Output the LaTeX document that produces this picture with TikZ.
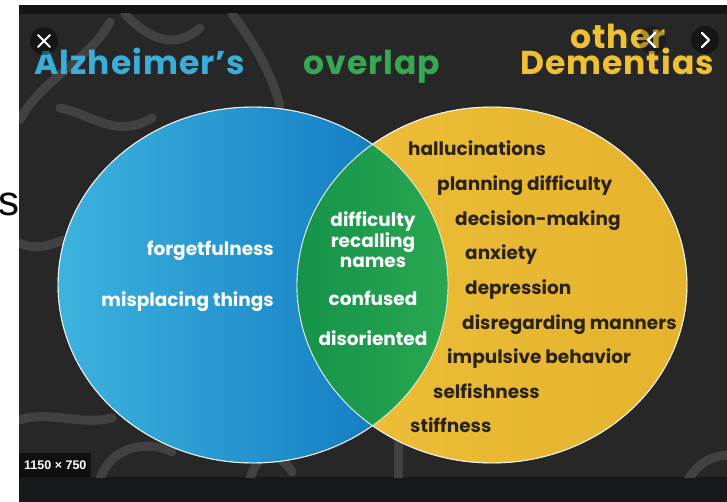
\documentclass[tikz,border=0pt]{standalone}
\usepackage{fontspec}
\setmainfont{Poppins}
\setsansfont{Liberation Sans}
\usepackage{xcolor}
\usetikzlibrary{positioning,shapes}

\definecolor{panel}{HTML}{272727}
\definecolor{panelTop}{HTML}{141417}
\definecolor{panelBottom}{HTML}{17181C}
\definecolor{swirl}{HTML}{414141}
\definecolor{alzLeft}{HTML}{3DB3DE}
\definecolor{alzRight}{HTML}{0B72BE}
\definecolor{ovlLeft}{HTML}{15934A}
\definecolor{ovlRight}{HTML}{29A751}
\definecolor{othLeft}{HTML}{EFBF3B}
\definecolor{othRight}{HTML}{E5B32C}
\definecolor{alzTitle}{HTML}{39AEDA}
\definecolor{ovlTitle}{HTML}{35A852}
\definecolor{othTitle}{HTML}{F0C032}
\definecolor{ink}{HTML}{2A2416}

\begin{document}
\begin{tikzpicture}[
            x=1pt, y=-1pt,
            setnode/.style={ellipse, minimum width=390pt, minimum height=356pt, inner sep=0pt},
            rim/.style={draw=white, draw opacity=0.75, line width=0.9pt},
            titletext/.style={font=\bfseries\fontsize{33}{36}\selectfont\addfontfeatures{LetterSpace=3}, anchor=base, inner sep=0pt},
            itemtext/.style={font=\bfseries\fontsize{18.5}{22}\selectfont, inner sep=0pt},
            swirlline/.style={draw=swirl, line width=9pt, line cap=round},
            iconbg/.style={circle, fill=black, fill opacity=0.45, minimum size=28pt, inner sep=0pt}
        ]
            \useasboundingbox (0,0) rectangle (727,502);
            \fill[white] (0,0) rectangle (727,502);
            % Panel
            \fill[panel] (19,5) rectangle (727,477);
            \fill[panelTop] (19,5) rectangle (727,14);
            \fill[panelBottom] (19,477) rectangle (727,502);
            \begin{scope}
                \clip (19,14) rectangle (727,477);
                \draw[swirlline] (20,120) .. controls (40,80) and (90,60) .. (110,22);
                \draw[swirlline] (125,14) .. controls (150,40) and (175,50) .. (200,28);
                \draw[swirlline] (60,108) .. controls (90,113) and (115,140) .. (152,118);
                \draw[swirlline] (232,14) .. controls (252,40) and (270,70) .. (280,105);
                \draw[swirlline] (19,243) .. controls (35,250) and (50,246) .. (62,240);
                \draw[swirlline] (19,420) .. controls (50,410) and (80,426) .. (112,418);
                \draw[swirlline] (100,480) .. controls (110,445) and (150,440) .. (172,452);
                \draw[swirlline] (250,480) .. controls (255,455) and (275,445) .. (292,472);
                \draw[swirlline] (398,438) -- (398,480);
                \draw[swirlline] (688,480) .. controls (700,460) and (715,455) .. (732,455);
            \end{scope}

            % Sets
            \node[setnode, left color=alzLeft, right color=alzRight, rim] (blueset) at (253,285) {};
            \node[setnode, left color=othLeft, right color=othRight, rim] (yellowset) at (492,285) {};
            \begin{scope}
                \clip (blueset.center) ellipse [x radius=195pt, y radius=178pt];
                \clip (yellowset.center) ellipse [x radius=195pt, y radius=178pt];
                \shade[left color=ovlLeft, right color=ovlRight] (296,100) rectangle (449,470);
            \end{scope}
            \draw[rim] (blueset.center) ellipse [x radius=195pt, y radius=178pt];
            \draw[rim] (yellowset.center) ellipse [x radius=195pt, y radius=178pt];

            % Titles
            \node[titletext, text=alzTitle] (alz) at (140,75) {Alzheimer’s};
            \node[titletext, text=ovlTitle] (ovl) at (372,75) {overlap};
            \node[titletext, text=othTitle] (oth) at (618,49) {other};
            \node[titletext, text=othTitle] (dem) at (617,75) {Dementias};

            \begin{scope}[
                every node/.style={itemtext}
            ]
                % Alzheimer's only
                \node[text=white, anchor=base east] (forg) at (274,255) {forgetfulness};
                \node[text=white, anchor=base east] (misp) at (274,306) {misplacing things};
                % Overlap
                \node[text=white, anchor=base] (ov1) at (373,227) {difficulty};
                \node[text=white, anchor=base] (ov2) at (373,248) {recalling};
                \node[text=white, anchor=base] (ov3) at (373,268) {names};
                \node[text=white, anchor=base] (ov4) at (373,305) {confused};
                \node[text=white, anchor=base] (ov5) at (373,345) {disoriented};
                % Other dementias only
                \node[text=ink, anchor=base west] (d1) at (408,156) {hallucinations};
                \node[text=ink, anchor=base west] (d2) at (437,190.6) {planning difficulty};
                \node[text=ink, anchor=base west] (d3) at (455,225.2) {decision-making};
                \node[text=ink, anchor=base west] (d4) at (465,259.8) {anxiety};
                \node[text=ink, anchor=base west] (d5) at (465,294.4) {depression};
                \node[text=ink, anchor=base west] (d6) at (462,329) {disregarding manners};
                \node[text=ink, anchor=base west] (d7) at (447,363.6) {impulsive behavior};
                \node[text=ink, anchor=base west] (d8) at (433,398.2) {selfishness};
                \node[text=ink, anchor=base west] (d9) at (410,432.8) {stiffness};
            \end{scope}

            % Page chrome
            \node[font=\sffamily\fontsize{42}{42}\selectfont, anchor=base east, inner sep=0pt] (pageS) at (20,216) {s};
            \node[iconbg] (closebtn) at (44,41) {};
            \draw[white, line width=2pt, line cap=round] ([shift={(-6,-6)}]closebtn.center) -- ([shift={(6,6)}]closebtn.center);
            \draw[white, line width=2pt, line cap=round] ([shift={(-6,6)}]closebtn.center) -- ([shift={(6,-6)}]closebtn.center);
            \node[iconbg, fill opacity=0.25] (prevbtn) at (652,40) {};
            \draw[white, line width=2.2pt, line cap=round, line join=round] ([shift={(3,-7)}]prevbtn.center) -- ([shift={(-4,0)}]prevbtn.center) -- ([shift={(3,7)}]prevbtn.center);
            \node[iconbg] (nextbtn) at (705,40) {};
            \draw[white, line width=2.2pt, line cap=round, line join=round] ([shift={(-3,-7)}]nextbtn.center) -- ([shift={(4,0)}]nextbtn.center) -- ([shift={(-3,7)}]nextbtn.center);
            \node[fill=black, fill opacity=0.6, text opacity=1, text=white, font=\sffamily\bfseries\fontsize{12.5}{14}\selectfont, anchor=south west, inner xsep=5pt, minimum height=24pt] (sizetag) at (19,477) {1150 × 750};
        \end{tikzpicture}
\end{document}
